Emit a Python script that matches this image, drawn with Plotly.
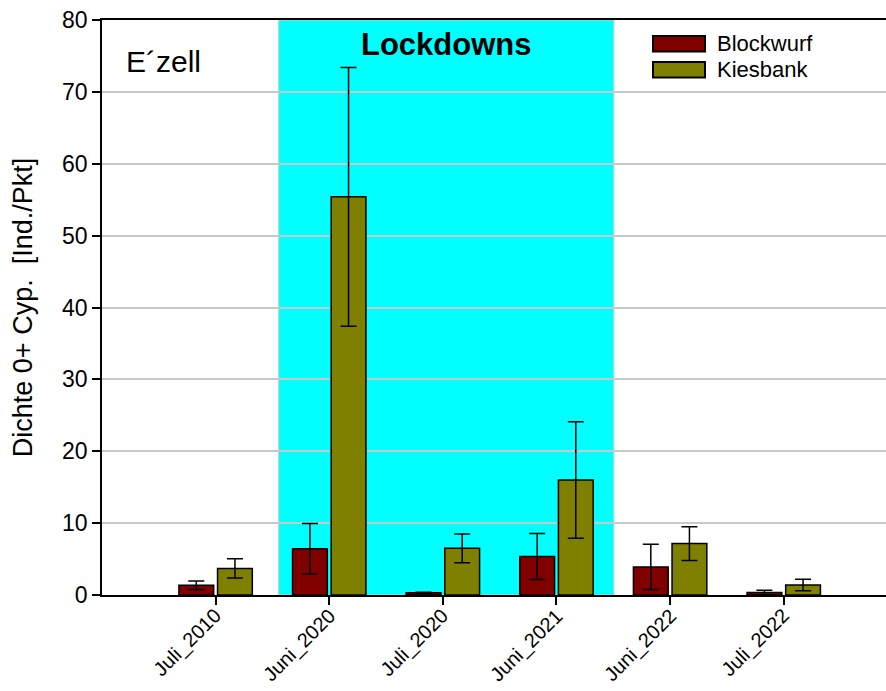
import plotly.graph_objects as go

# Sampling dates and mean densities (0+ Cyprinids, Ind./Pkt) per habitat type
dates = ["Juli_2010", "Juni_2020", "Juli_2020", "Juni_2021", "Juni_2022", "Juli_2022"]
blockwurf = [1.35, 6.45, 0.3, 5.35, 3.9, 0.35]
blockwurf_err = [0.6, 3.5, 0.1, 3.2, 3.15, 0.3]
kiesbank = [3.7, 55.4, 6.5, 16.0, 7.15, 1.4]
kiesbank_err = [1.35, 18.0, 2.0, 8.1, 2.35, 0.8]

series_names = ["Blockwurf", "Kiesbank"]
series_colors = ["#800000", "#808000"]
y_ticks = [0, 10, 20, 30, 40, 50, 60, 70, 80]

FONT = "Liberation Sans, Arial, sans-serif"
idx = list(range(len(dates)))

fig = go.Figure()
for name, vals, errs, col in zip(series_names, [blockwurf, kiesbank],
                                 [blockwurf_err, kiesbank_err], series_colors):
    fig.add_trace(go.Bar(
        x=idx, y=vals, name=name,
        marker=dict(color=col, line=dict(color="black", width=1.5)),
        error_y=dict(type="data", array=errs, visible=True,
                     color="black", thickness=1.5, width=8),
        showlegend=False,
    ))

# Lockdown period shading
fig.add_shape(type="rect", xref="x", yref="y", x0=0.555, x1=3.505, y0=0, y1=80,
              fillcolor="#00FFFF", line=dict(color="#c8c8c8", width=1), layer="below")

# Legend boxes with labels, placed in the upper right of the plot
for (name, col), yb in zip(zip(series_names, series_colors), [36, 62]):
    fig.add_shape(type="rect", xref="paper", yref="paper",
                  x0=(653 - 102) / 784, x1=(705 - 102) / 784,
                  y0=1 - (yb + 15.5 - 20) / 575, y1=1 - (yb - 20) / 575,
                  fillcolor=col, line=dict(color="black", width=2))
    fig.add_annotation(xref="paper", yref="paper",
                       x=(715 - 102) / 784, y=1 - (yb + 7.75 - 20) / 575,
                       text=name, showarrow=False, xanchor="left", yanchor="middle",
                       font=dict(family=FONT, size=22, color="black"))

fig.add_annotation(xref="paper", yref="paper", x=(124 - 102) / 784, y=1 - (62 - 20) / 575,
                   text="E´zell", showarrow=False, xanchor="left", yanchor="middle",
                   font=dict(family=FONT, size=30, color="black"))
fig.add_annotation(xref="x", yref="paper", x=(0.555 + 3.505) / 2, y=1 - (44 - 20) / 575,
                   text="<b>Lockdowns</b>", showarrow=False, xanchor="center", yanchor="middle",
                   font=dict(family=FONT, size=31, color="black"))

# Slanted category labels under each tick
for i, lab in zip(idx, dates):
    fig.add_annotation(xref="x", yref="paper", x=i, y=0, text=lab, showarrow=False,
                       textangle=-45, xanchor="right", yanchor="top",
                       xshift=12, yshift=-8, borderpad=0,
                       font=dict(family=FONT, size=20, color="black"))

fig.update_layout(
    width=886, height=691,
    margin=dict(l=102, r=0, t=20, b=96),
    paper_bgcolor="white", plot_bgcolor="white",
    barmode="group", bargap=0.32, bargroupgap=0.1,
    font=dict(family=FONT, color="black"),
    xaxis=dict(
        range=[-1, 5.9], tickmode="array", tickvals=idx, showticklabels=False,
        ticks="outside", ticklen=8, tickwidth=1.5, tickcolor="black",
        showline=True, linecolor="black", linewidth=1.5, mirror=True, automargin=False,
        showgrid=False, zeroline=False,
    ),
    yaxis=dict(
        range=[0, 80], tickmode="array", tickvals=y_ticks,
        ticks="outside", ticklen=8, tickwidth=1.5, tickcolor="black",
        showline=True, linecolor="black", linewidth=1.5, automargin=False,
        showgrid=True, gridcolor="#c8c8c8", gridwidth=1.5, zeroline=False,
        tickfont=dict(family=FONT, size=23),
        title=dict(text="Dichte 0+ Cyp.  [Ind./Pkt]", font=dict(family=FONT, size=27), standoff=22),
    ),
)

fig.write_html("out.html")
